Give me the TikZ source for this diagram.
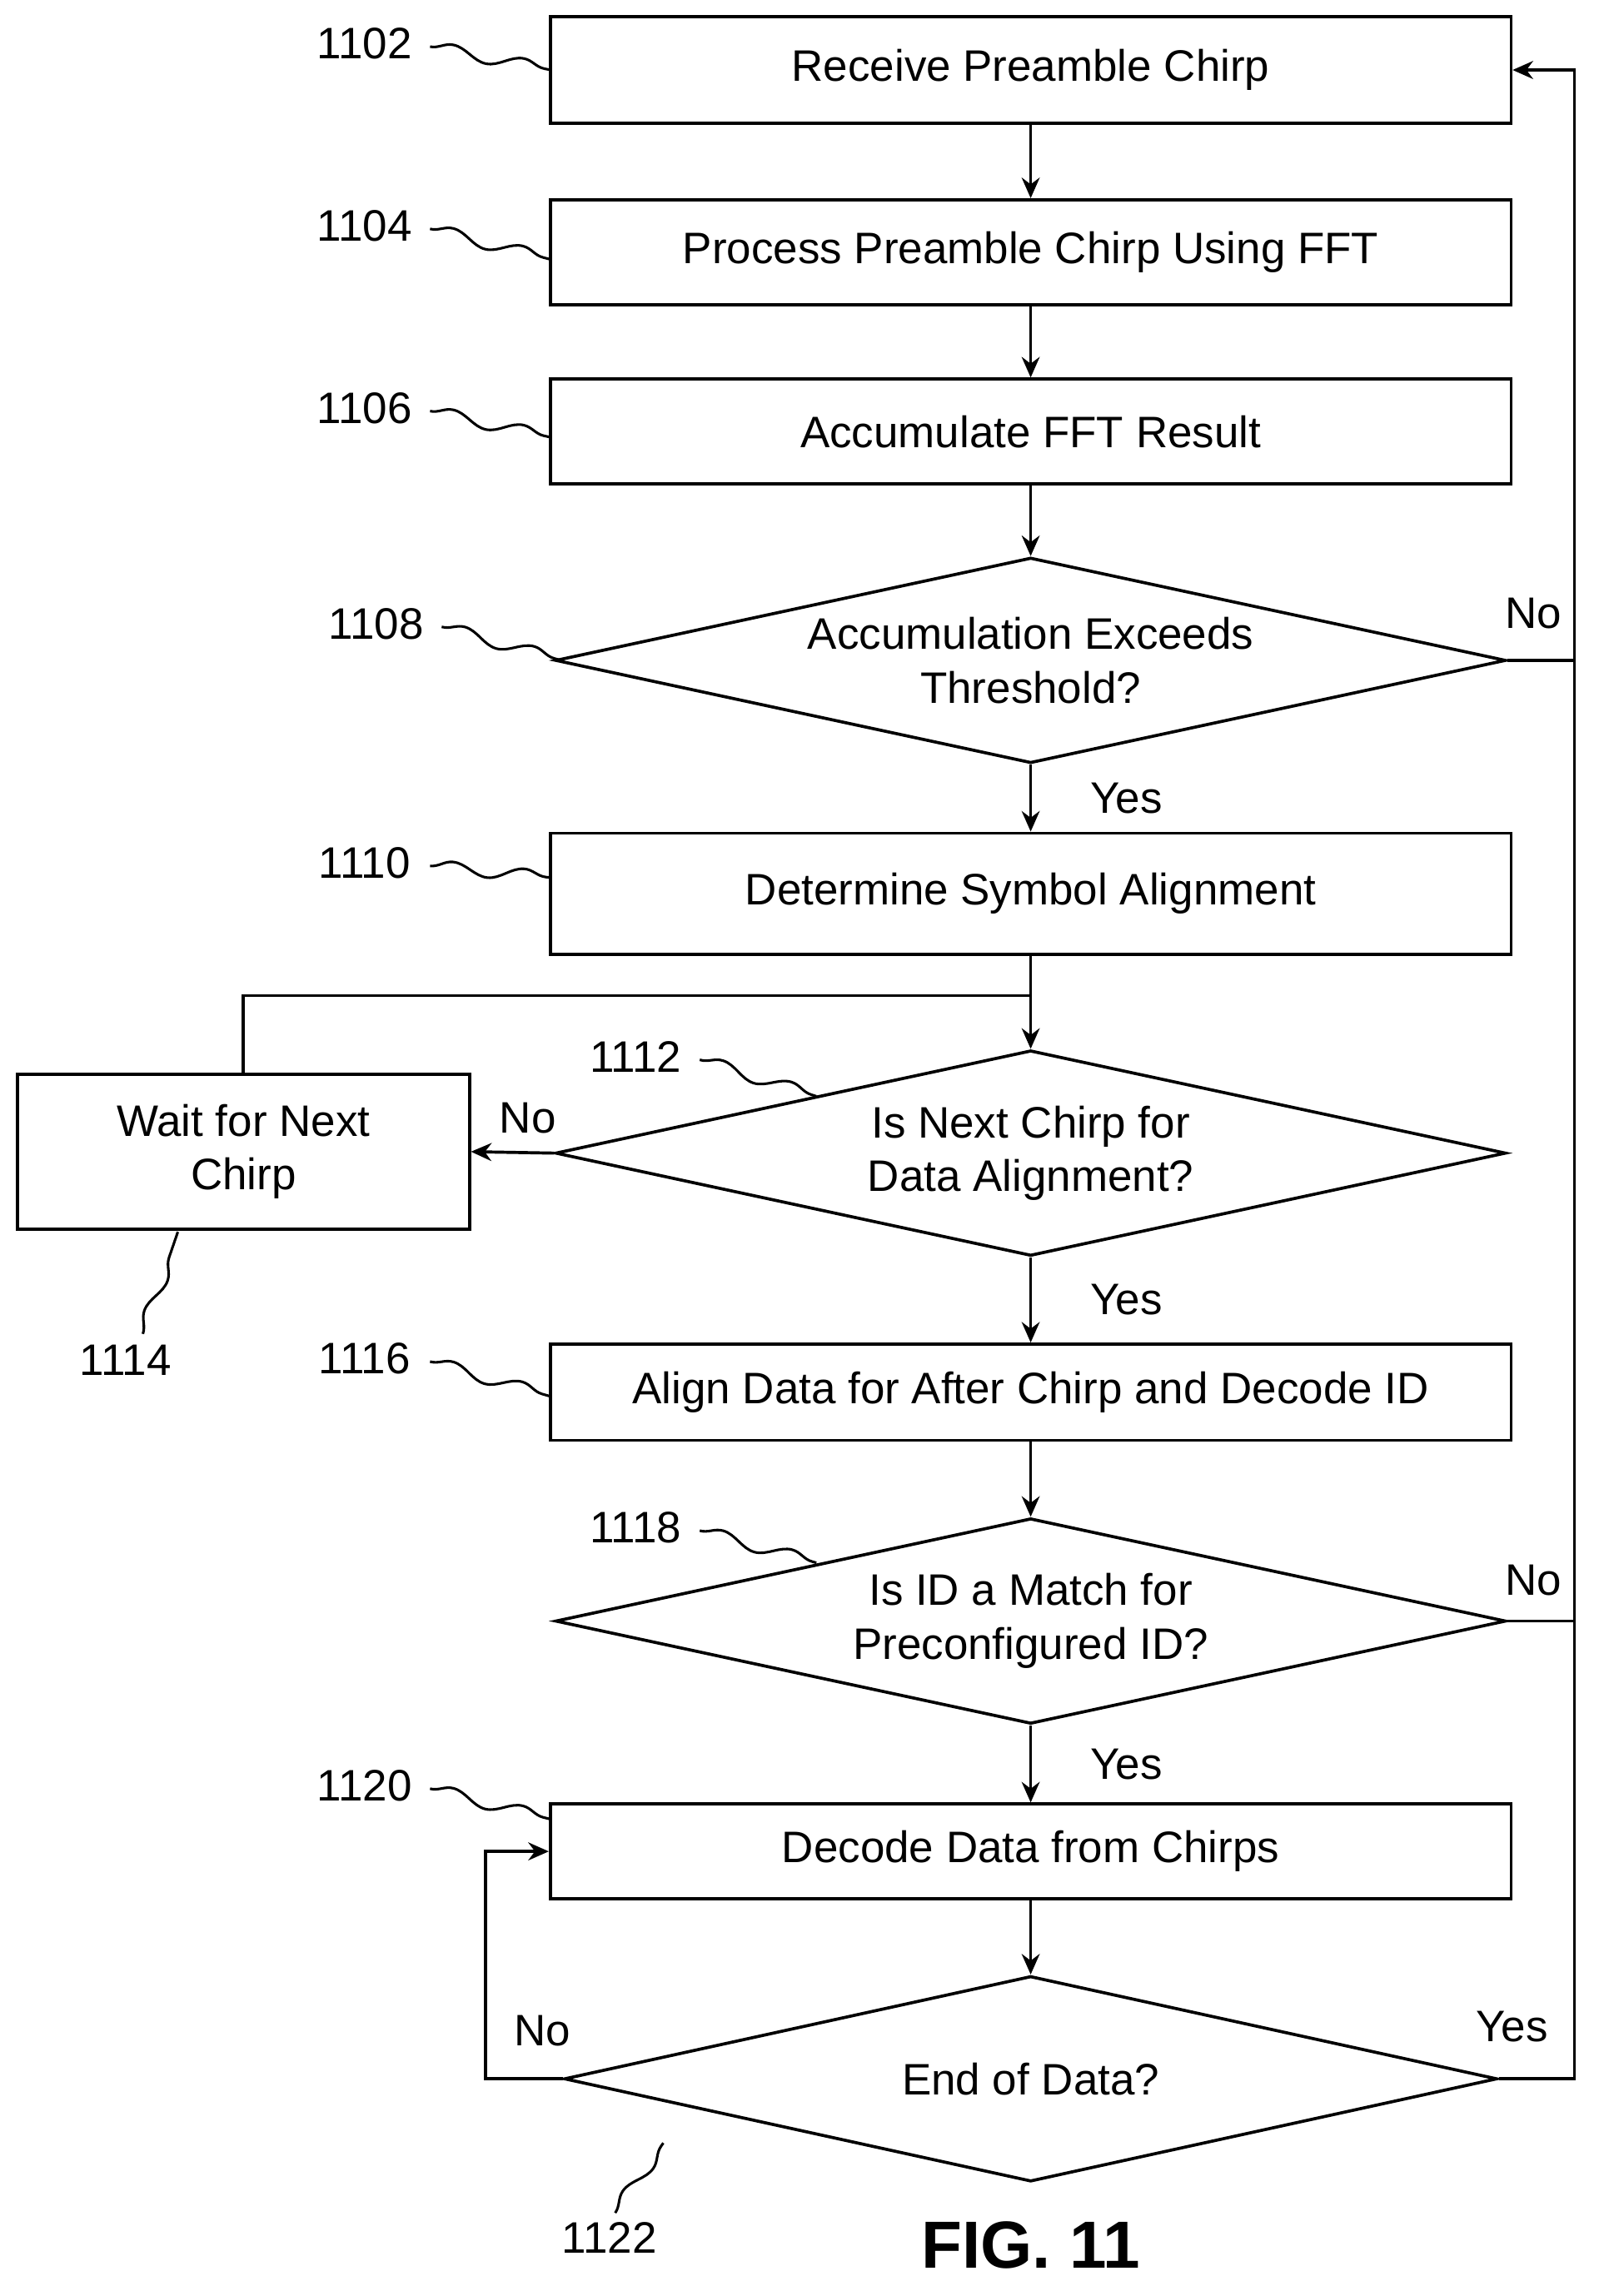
\documentclass[tikz,border=0pt]{standalone}
\usepackage{fontspec}
\setmainfont{Liberation Sans}
\usetikzlibrary{shapes.geometric,arrows.meta,decorations.pathmorphing}
\begin{document}
\begin{tikzpicture}[x=0.01cm,y=-0.01cm,
  every node/.style={font=\fontsize{8.6}{10.5}\selectfont},
  box/.style={draw,line width=0.6pt,minimum width=659*0.01cm,inner sep=0,align=center},
  dia/.style={draw,diamond,line width=0.6pt,inner sep=0,minimum width=652*0.01cm,minimum height=141*0.01cm},
  ar/.style={line width=0.6pt,-{Stealth[length=4pt,width=3.5pt]}},
  ln/.style={line width=0.6pt},
  lead/.style={line width=0.5pt,decorate,decoration={snake,amplitude=1.2pt,segment length=14pt}},
  num/.style={anchor=center}]
\useasboundingbox (0,0) rectangle (1100,1575);
\node[box,minimum height=73*0.01cm] (b1102) at (707,48) {Receive Preamble Chirp};
\node[box,minimum height=72*0.01cm] (b1104) at (707,173) {Process Preamble Chirp Using FFT};
\node[box,minimum height=72*0.01cm] (b1106) at (707,296) {Accumulate FFT Result};
\node[dia,label={[align=center]center:Accumulation Exceeds\\Threshold?}] (d1108) at (707,453) {};
\node[box,minimum height=83*0.01cm] (b1110) at (707,613) {Determine Symbol Alignment};
\node[dia,label={[align=center]center:Is Next Chirp for\\Data Alignment?}] (d1112) at (707,791) {};
\node[draw,line width=0.6pt,minimum width=310*0.01cm,minimum height=106*0.01cm,inner sep=0,align=center] (b1114) at (167,790) {Wait for Next\\Chirp};
\node[box,minimum height=66*0.01cm] (b1116) at (707,955) {Align Data for After Chirp and Decode ID};
\node[dia,label={[align=center]center:Is ID a Match for\\Preconfigured ID?}] (d1118) at (707,1112) {};
\node[box,minimum height=65*0.01cm] (b1120) at (707,1270) {Decode Data from Chirps};
\node[dia,minimum width=640*0.01cm,label={[align=center]center:End of Data?}] (d1122) at (707,1426) {};

\coordinate (rx) at (1080,0);
\coordinate (j1) at (707,683);
\coordinate (lx) at (333,0);

\draw[ar] (b1102) -- (b1104);
\draw[ar] (b1104) -- (b1106);
\draw[ar] (b1106) -- (d1108);
\draw[ar] (d1108) -- node[right,xshift=8pt]{Yes} (b1110);
\draw[ar] (b1110) -- (d1112);
\draw[ar] (d1112) -- node[right,xshift=8pt]{Yes} (b1116);
\draw[ar] (b1116) -- (d1118);
\draw[ar] (d1118) -- node[right,xshift=8pt]{Yes} (b1120);
\draw[ar] (b1120) -- (d1122);
\draw[ar] (d1112.west) -- (b1114.east);
\draw[ln] (b1114.north) |- (j1);
\draw[ar] (d1122.east) -- (d1122.east -| rx) -- (b1102.east -| rx) -- (b1102.east);
\draw[ln] (d1108.east) -- (d1108.east -| rx);
\draw[ln] (d1118.east) -- (d1118.east -| rx);
\draw[ar] (d1122.west) -- (d1122.west -| lx) -- (b1120.west -| lx) -- (b1120.west);

\node at (1052,421) {No};
\node at (362,767) {No};
\node at (1052,1084) {No};
\node at (372,1393) {No};
\node at (1037,1390) {Yes};

\node[num] (n1102) at (250,30) {1102};
\node[num] (n1104) at (250,155) {1104};
\node[num] (n1106) at (250,280) {1106};
\node[num] (n1108) at (258,428) {1108};
\node[num] (n1110) at (250,592) {1110};
\node[num] (n1112) at (436,725) {1112};
\node[num] (n1114) at (86,933) {1114};
\node[num] (n1116) at (250,932) {1116};
\node[num] (n1118) at (436,1048) {1118};
\node[num] (n1120) at (250,1225) {1120};
\node[num] (n1122) at (418,1535) {1122};
\coordinate (t1102) at (378,48);
\coordinate (t1104) at (378,178);
\coordinate (t1106) at (378,300);
\coordinate (t1108) at (385,453);
\coordinate (t1110) at (378,602);
\coordinate (t1112) at (560,752);
\coordinate (t1114) at (122,845);
\coordinate (t1116) at (378,958);
\coordinate (t1118) at (560,1072);
\coordinate (t1120) at (378,1248);
\coordinate (t1122) at (455,1470);
\draw[lead] (295,32) -- (t1102);
\draw[lead] (295,157) -- (t1104);
\draw[lead] (295,282) -- (t1106);
\draw[lead] (303,430) -- (t1108);
\draw[lead] (295,594) -- (t1110);
\draw[lead] (480,727) -- (t1112);
\draw[lead] (98,915) -- (t1114);
\draw[lead] (295,934) -- (t1116);
\draw[lead] (480,1050) -- (t1118);
\draw[lead] (295,1227) -- (t1120);
\draw[lead] (422,1518) -- (t1122);

\node[font=\fontsize{13}{15}\selectfont\bfseries] (fig) at (707,1540) {FIG. 11};
\end{tikzpicture}
\end{document}
